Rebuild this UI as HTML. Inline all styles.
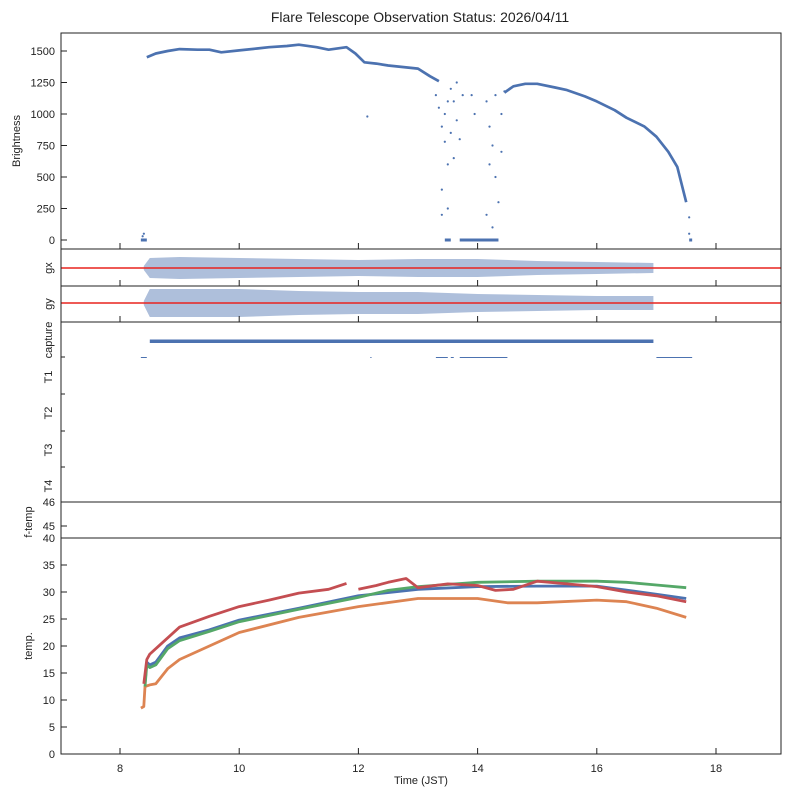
<!DOCTYPE html>
<html><head><meta charset="utf-8"><style>
body{margin:0;background:#fff}
svg{display:block;font-family:"Liberation Sans","DejaVu Sans",sans-serif}
</style></head><body>
<svg id="c" width="789" height="798" viewBox="0 0 789 798" xmlns="http://www.w3.org/2000/svg">
<text x="420" y="22" font-size="14" text-anchor="middle" fill="#222">Flare Telescope Observation Status: 2026/04/11</text>
<g id="g"></g>
</svg>
<script>
// ---- data ----
const xTicks=[8,10,12,14,16,18];
const brightTicks=[0,250,500,750,1000,1250,1500];
const tempTicks=[0,5,10,15,20,25,30,35,40];
const brightT=[8.45,8.6,8.8,9.0,9.3,9.5,9.7,10.0,10.3,10.5,10.8,11.0,11.3,11.5,11.8,11.95,12.1,12.3,12.5,12.8,13.0,13.2,13.35];
const brightV=[1450,1480,1500,1515,1510,1510,1490,1505,1520,1530,1540,1550,1530,1510,1530,1480,1410,1400,1385,1370,1360,1300,1260];
const bright2T=[14.45,14.6,14.8,15.0,15.3,15.5,15.8,16.0,16.3,16.5,16.8,17.0,17.2,17.35,17.5];
const bright2V=[1170,1220,1240,1240,1210,1190,1140,1100,1030,970,900,820,700,580,300];
const outT=[12.15,13.3,13.35,13.4,13.45,13.5,13.55,13.6,13.4,13.5,13.65,13.7,13.75,13.4,13.6,13.9,13.95,14.15,14.2,14.25,14.3,14.35,14.15,14.25,14.4,14.45,13.45,13.55,14.3,17.55,17.55,13.65,13.5,14.2,14.4,8.38,8.4];
const outV=[980,1150,1050,900,780,600,1200,1100,400,250,950,800,1150,200,650,1150,1000,1100,900,750,500,300,200,100,1000,1180,1000,850,1150,50,180,1250,1100,600,700,30,50];
const zeroT=[[8.35,8.45],[13.45,13.55],[13.7,14.35],[17.55,17.6]];
const gxT=[8.4,8.5,9.0,10.0,11.0,12.0,13.0,14.0,15.0,16.0,16.95];
const gxW=[2,10,11,10,9,8,9,9,7,6,5];
const gyT=[8.4,8.5,9.0,10.0,11.0,12.0,13.0,14.0,15.0,16.0,16.95];
const gyW=[2,14,14,14,12,11,11,9,8,7,7];
const captureOn=[[8.5,16.95]];
const t1On=[[8.35,8.45],[12.2,12.22],[13.3,13.5],[13.55,13.6],[13.7,14.5],[17.0,17.6]];
const blueT=[8.42,8.45,8.5,8.6,8.8,9.0,9.5,10,11,12,13,14,15,16,17,17.5];
const blueV=[13,17,16.5,17,20,21.5,23,24.8,27,29.3,30.5,31,31.1,31.1,29.6,28.8];
const greenT=[8.42,8.45,8.5,8.6,8.8,9.0,9.5,10,11,12,12.5,13,14,15,16,16.5,17,17.5];
const greenV=[12.5,16.5,16,16.5,19.5,21,22.7,24.5,26.8,29,30.3,31,31.8,32,32,31.8,31.3,30.8];
const orangeT=[8.35,8.4,8.42,8.5,8.6,8.8,9.0,9.5,10,11,12,13,14,14.5,15,16,16.5,17,17.5];
const orangeV=[8.5,8.8,12.5,12.8,13,15.8,17.5,20,22.5,25.3,27.3,28.8,28.8,28,28,28.5,28.2,27,25.3];
const redT=[8.4,8.45,8.5,8.7,9.0,9.5,10,10.5,11,11.5,11.8];
const redV=[13,17.5,18.5,20.5,23.5,25.5,27.3,28.5,29.8,30.5,31.6];
const red2T=[12.0,12.3,12.5,12.8,13.0,13.5,14.0,14.3,14.6,15.0,15.5,16.0,16.5,17.0,17.5];
const red2V=[30.5,31.2,31.8,32.5,30.8,31.5,31.2,30.3,30.5,32,31.5,31,30,29.3,28.2];

// ---- axes ----
const L=61,R=781;
const X=t=>120+(t-8)*59.6;
const YB=v=>240-v*0.126;
const YT=v=>754-v*5.4;
const g=document.getElementById('g');
const NS='http://www.w3.org/2000/svg';
function mk(tag,at){const e=document.createElementNS(NS,tag);for(const k in at)e.setAttribute(k,at[k]);g.appendChild(e);return e;}
function path(T,V,Y,col,w,name){let d='';T.forEach((t,i)=>{d+=(i?'L':'M')+X(t).toFixed(1)+' '+Y(V[i]).toFixed(1);});
 const p=mk('path',{d:d,fill:'none',stroke:col,'stroke-width':w,'stroke-linejoin':'round'});
 
 return p;}
function band(T,W,c,col,name){let d='';T.forEach((t,i)=>{d+=(i?'L':'M')+X(t).toFixed(1)+' '+(c-W[i]);});
 for(let i=T.length-1;i>=0;i--)d+='L'+X(T[i]).toFixed(1)+' '+(c+W[i]);
 const p=mk('path',{d:d+'Z',fill:col,'fill-opacity':0.45});
 
 }
const panels=[[33,249],[249,286],[286,322],[322,502],[502,538],[538,754]];
// brightness
path(brightT,brightV,YB,'#4c72b0',2.7,'brightness-series');
path(bright2T,bright2V,YB,'#4c72b0',2.7,'brightness-series-late');
outT.forEach((t,i)=>{const c=mk('circle',{cx:X(t),cy:YB(outV[i]),r:1.1,fill:'#4c72b0'});
 
 });
zeroT.forEach(s=>{const r=mk('rect',{x:X(s[0]),y:YB(0)-1.5,width:X(s[1])-X(s[0]),height:3,fill:'#4c72b0'});
 
 });
// gx gy
band(gxT,gxW,268,'#4c72b0','gx-scatter');
band(gyT,gyW,303,'#4c72b0','gy-scatter');
let rl=mk('line',{x1:L,x2:R,y1:268,y2:268,stroke:'#e8231f','stroke-width':1.6});

rl=mk('line',{x1:L,x2:R,y1:303,y2:303,stroke:'#e8231f','stroke-width':1.6});

// capture/T1
captureOn.forEach(s=>{const r=mk('rect',{x:X(s[0]),y:339.5,width:X(s[1])-X(s[0]),height:3.5,fill:'#4c72b0'});
 });
t1On.forEach(s=>{const r=mk('rect',{x:X(s[0]),y:357,width:X(s[1])-X(s[0]),height:1,fill:'#4c72b0'});
 });
// temps
path(orangeT,orangeV,YT,'#dd8452',2.8,'temp-orange-series');
path(blueT,blueV,YT,'#4c72b0',2.8,'temp-blue-series');
path(greenT,greenV,YT,'#55a868',2.8,'temp-green-series');
path(redT,redV,YT,'#c44e52',2.8,'temp-red-series');
path(red2T,red2V,YT,'#c44e52',2.8,'temp-red-series-late');
// frames & ticks
panels.forEach((p,i)=>{const r=mk('rect',{x:L,y:p[0],width:R-L,height:p[1]-p[0],fill:'none',stroke:'#222','stroke-width':1});
 
 if(i!==3&&i!==4)xTicks.forEach(t=>mk('line',{x1:X(t),x2:X(t),y1:p[1],y2:p[1]-6,stroke:'#222'}));});
function lab(x,y,txt,anchor,rot,name,fs){const e=mk('text',{x:x,y:y,'font-size':fs||11,fill:'#222','text-anchor':anchor});
 if(rot)e.setAttribute('transform','rotate(-90 '+x+' '+y+')');e.textContent=txt;
 }
brightTicks.forEach(v=>{mk('line',{x1:L,x2:L+6,y1:YB(v),y2:YB(v),stroke:'#222'});lab(55,YB(v)+4,String(v),'end',0,'brightness-tick-label');});
tempTicks.forEach(v=>{mk('line',{x1:L,x2:L+6,y1:YT(v),y2:YT(v),stroke:'#222'});lab(55,YT(v)+4,String(v),'end',0,'temp-tick-label');});
[[502,'46'],[526,'45']].forEach(a=>{mk('line',{x1:L,x2:L+6,y1:a[0],y2:a[0],stroke:'#222'});lab(55,a[0]+4,a[1],'end',0,'ftemp-tick-label');});
[357,394,431,467].forEach(y=>mk('line',{x1:L,x2:L+4,y1:y,y2:y,stroke:'#222'}));
xTicks.forEach(t=>lab(X(t),772,String(t),'middle',0,'x-tick-label'));
lab(421,784,'Time (JST)','middle',0,'x-axis-title');
lab(20,141,'Brightness','middle',1,'brightness-axis-title');
lab(52,268,'gx','middle',1,'gx-axis-title');
lab(52,304,'gy','middle',1,'gy-axis-title');
lab(52,340,'capture','middle',1,'capture-label');
lab(52,377,'T1','middle',1,'t1-label');
lab(52,413,'T2','middle',1,'t2-label');
lab(52,450,'T3','middle',1,'t3-label');
lab(52,486,'T4','middle',1,'t4-label');
lab(32,522,'f-temp','middle',1,'ftemp-axis-title');
lab(32,646,'temp.','middle',1,'temp-axis-title');
</script>
</body></html>
